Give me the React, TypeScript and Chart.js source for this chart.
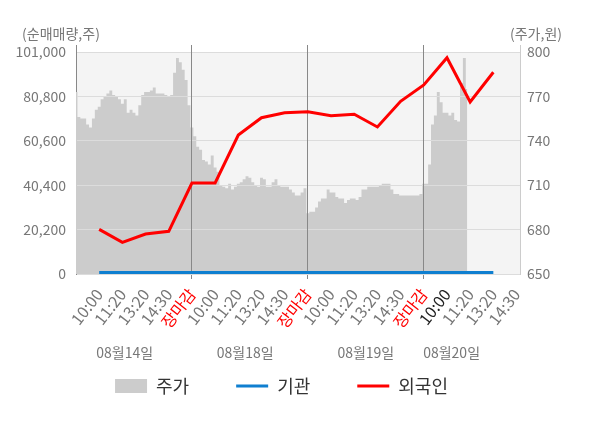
import { useEffect, useRef } from "react";
import { Chart, registerables } from "chart.js";

Chart.register(...registerables);

const FONT = "'Noto Sans CJK KR', 'Noto Sans', sans-serif";

// x axis: one slot per label, day boundaries at 장마감
const timeLabels = [
  "10:00", "11:20", "13:20", "14:30", "장마감",
  "10:00", "11:20", "13:20", "14:30", "장마감",
  "10:00", "11:20", "13:20", "14:30", "장마감",
  "10:00", "11:20", "13:20", "14:30",
];
const dateLabels = ["08월14일", "08월18일", "08월19일", "08월20일"];
const dateTickAt = [1.1, 6.3, 11.5, 15.2];

// net buying (shares), one value per time slot
const foreignNet = [
  20300, 14400, 18200, 19400, 41400, 41400, 63200, 71100, 73400,
  73800, 72000, 72700, 66900, 78600, 86000, 98400, 78300, 91800,
];
const institutionNet = [
  700, 700, 700, 700, 700, 700, 700, 700, 700,
  700, 700, 700, 700, 700, 700, 700, 700, 700,
];

// intraday price (won), sampled every 1/8 slot starting at the open
const priceStart = -1;
const priceStep = 0.125;
const prices = [
  773, 756, 755, 755, 751, 749, 755, 761, 763, 768, 770, 772, 774, 771,
  770, 768, 765, 768, 759, 761, 759, 757, 764, 771, 773, 773, 774, 776,
  772, 772, 772, 771, 770, 771, 786, 796, 793, 788, 781, 764, 749,
  743, 736, 734, 727, 726, 724, 730, 722, 719, 710, 709, 708, 711, 707,
  709, 711, 712, 714, 716, 715, 712, 710, 709, 715, 714, 709, 709, 712,
  714, 710, 709, 709, 709, 707, 705, 703, 703, 705, 708, 691,
  692, 692, 695, 699, 701, 701, 707, 705, 705, 702, 701, 701, 698, 700,
  701, 701, 700, 702, 707, 707, 709, 709, 709, 709, 710, 711, 711, 711,
  707, 704, 704, 703, 703, 703, 703, 703, 703, 703, 704, 711,
  711, 724, 751, 757, 773, 766, 759, 759, 757, 759, 754, 753, 779, 796, 775,
];

const volumeTicks = [0, 20200, 40400, 60600, 80800, 101000];
const priceTicks = [650, 680, 710, 740, 770, 800];
const leftTitle = "(순매매량,주)";
const rightTitle = "(주가,원)";

const chartDecor = {
  id: "chartDecor",
  beforeDraw(chart: any) {
    const { ctx, chartArea: a } = chart;
    const top = chart.scales.y.getPixelForValue(volumeTicks[volumeTicks.length - 1]);
    ctx.save();
    ctx.fillStyle = "#f4f4f4";
    ctx.fillRect(a.left, top, a.width, a.bottom - top);
    ctx.restore();
  },
  afterDatasetDraw(chart: any, args: any) {
    // grid lines sit on top of the price area but under the lines
    if (args.index !== 0) return;
    chart.scales.y.drawGrid(chart.chartArea);
    chart.scales.x.drawGrid(chart.chartArea);
  },
  afterDraw(chart: any) {
    const { ctx, chartArea: a } = chart;
    const x = chart.scales.x;
    ctx.save();
    ctx.font = `14px ${FONT}`;
    ctx.fillStyle = "#777";
    ctx.textAlign = "center";
    ctx.textBaseline = "middle";
    ctx.fillText(leftTitle, a.left - 15, a.top - 11);
    ctx.fillText(rightTitle, a.right + 16, a.top - 11);
    dateLabels.forEach((d, i) => {
      ctx.fillText(d, x.getPixelForValue(dateTickAt[i]), a.bottom + 79);
    });
    ctx.restore();
  },
};

export default function App() {
  const chartRef = useRef<HTMLCanvasElement>(null);

  useEffect(() => {
    if (!chartRef.current) return;
    Chart.defaults.font.family = FONT;
    const myChart = new Chart(chartRef.current, {
      type: "line",
      data: {
        datasets: [
          {
            label: "주가",
            data: prices.map((p, k) => ({ x: priceStart + k * priceStep, y: p })),
            yAxisID: "y1",
            backgroundColor: "#cccccc",
            borderColor: "transparent",
            borderWidth: 0,
            pointRadius: 0,
            fill: "start",
            stepped: "middle",
            order: 3,
          },
          {
            label: "기관",
            data: institutionNet.map((v, i) => ({ x: i, y: v })),
            yAxisID: "y",
            borderColor: "#0f7fd0",
            backgroundColor: "#0f7fd0",
            borderWidth: 3,
            pointRadius: 0,
            order: 2,
          },
          {
            label: "외국인",
            data: foreignNet.map((v, i) => ({ x: i, y: v })),
            yAxisID: "y",
            borderColor: "#ff0000",
            backgroundColor: "#ff0000",
            borderWidth: 3,
            pointRadius: 0,
            order: 1,
          },
        ] as any,
      },
      options: {
        animation: false,
        responsive: true,
        maintainAspectRatio: false,
        events: [],
        layout: { padding: { top: 45, right: 37, bottom: 23, left: 0 } },
        plugins: {
          tooltip: { enabled: false },
          legend: {
            position: "bottom",
            labels: {
              usePointStyle: true,
              pointStyleWidth: 32,
              boxHeight: 14,
              padding: 47,
              color: "#333",
              font: { size: 18, family: FONT },
              generateLabels: (chart: any) =>
                chart.data.datasets.map((ds: any, i: number) => ({
                  text: ds.label,
                  datasetIndex: i,
                  fillStyle: ds.backgroundColor,
                  strokeStyle: i === 0 ? "transparent" : ds.borderColor,
                  lineWidth: i === 0 ? 0 : 3,
                  pointStyle: i === 0 ? "rect" : "line",
                  fontColor: "#333",
                  hidden: false,
                })),
            },
          },
        },
        scales: {
          x: {
            type: "linear",
            position: "bottom",
            min: -1,
            max: 18.15,
            afterBuildTicks: (s: any) => {
              s.ticks = timeLabels.map((_, i) => ({ value: i }));
            },
            afterFit: (s: any) => {
              s.height = 56;
            },
            ticks: {
              autoSkip: false,
              minRotation: 52,
              maxRotation: 52,
              padding: 6,
              font: { size: 16 },
              color: (c: any) =>
                timeLabels[c.index] === "장마감" ? "#ff0000" : c.index === 15 ? "#222" : "#777",
              callback: (_v: any, i: number) => timeLabels[i],
            },
            grid: {
              color: (c: any) => (timeLabels[c.index] === "장마감" ? "#888" : "transparent"),
              tickLength: 5,
            },
            border: { color: "#999" },
          },
          y: {
            position: "left",
            min: 0,
            max: 104200,
            afterBuildTicks: (s: any) => {
              s.ticks = volumeTicks.map((v) => ({ value: v }));
            },
            afterFit: (s: any) => {
              s.width = 76;
            },
            ticks: {
              padding: 10,
              color: "#777",
              font: { size: 14 },
              callback: (v: any) => Number(v).toLocaleString("en-US"),
            },
            grid: { color: "#dcdcdc", drawTicks: false },
            border: { color: "#888" },
          },
          y1: {
            position: "right",
            min: 650,
            max: 804.7,
            afterBuildTicks: (s: any) => {
              s.ticks = priceTicks.map((v) => ({ value: v }));
            },
            afterFit: (s: any) => {
              s.width = 43;
            },
            ticks: {
              padding: 7,
              color: "#777",
              font: { size: 14 },
            },
            grid: { drawOnChartArea: false, drawTicks: false },
            border: { color: "#ccc" },
          },
        },
      } as any,
      plugins: [chartDecor],
    });
    return () => myChart.destroy();
  }, []);

  return (
    <div style={{ position: "fixed", left: 0, top: 0, width: 600, height: 428, background: "#fff" }}>
      <canvas ref={chartRef} />
    </div>
  );
}
